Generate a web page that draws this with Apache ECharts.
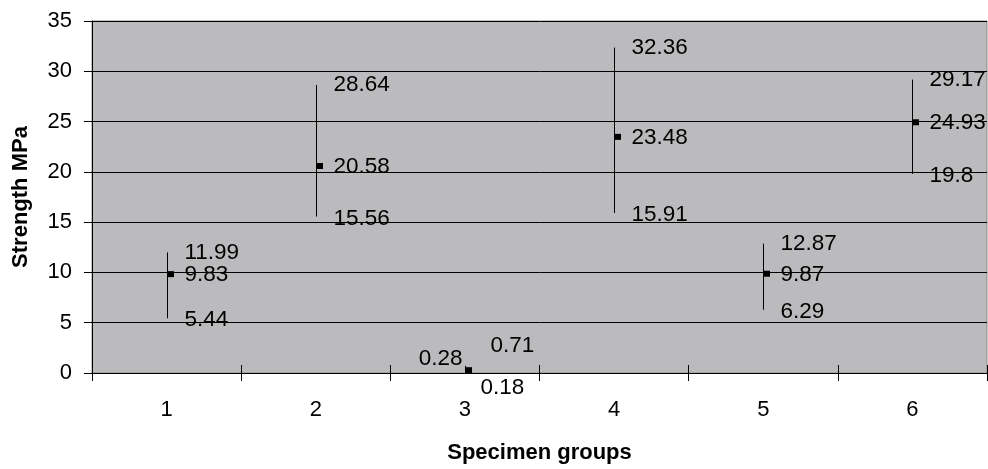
<!DOCTYPE html>
<html>
<head>
<meta charset="utf-8">
<script src="https://cdn.jsdelivr.net/npm/echarts@6/dist/echarts.min.js"></script>
<style>html,body{margin:0;padding:0;background:#fff}#c{width:988px;height:469px}</style>
</head>
<body>
<div id="c"></div>
<script>
var categories = ['1', '2', '3', '4', '5', '6'];
var highValues = [11.99, 28.64, 0.71, 32.36, 12.87, 29.17];
var lowValues  = [5.44, 15.56, 0.18, 15.91, 6.29, 19.8];
var meanValues = [9.83, 20.58, 0.28, 23.48, 9.87, 24.93];
var yTicks = [0, 5, 10, 15, 20, 25, 30, 35];

var FONT = '"Liberation Sans", Arial, sans-serif';
var LABEL_SIZE = 22.5;

// label offsets (dx from line, dy from value) per group; default right of line
function labelOffsets(i) {
  if (i === 2) {
    return {
      high: {dx: 25, dy: -20, align: 'left'},
      low:  {dx: 15, dy: 17, align: 'left'},
      mean: {dx: -3, dy: -11, align: 'right'}
    };
  }
  return {
    high: {dx: 17, dy: 0, align: 'left'},
    low:  {dx: 17, dy: 2, align: 'left'},
    mean: {dx: 17, dy: 1, align: 'left'}
  };
}

var seriesData = categories.map(function (c, i) {
  return [i, highValues[i], lowValues[i], meanValues[i]];
});

function fmt(v) { return String(v); }

var chart = echarts.init(document.getElementById('c'), null, {renderer: 'canvas'});
var axisCommon = {
  type: 'category',
  data: categories,
  position: 'bottom',
  boundaryGap: true
};
chart.setOption({
  animation: false,
  grid: {
    left: 92, top: 21, right: 1, bottom: 92,
    show: true, backgroundColor: '#bbbbbe', borderColor: '#8a8a8a', borderWidth: 1
  },
  xAxis: [
    Object.assign({}, axisCommon, {
      axisLine: {lineStyle: {color: '#000', width: 1}},
      axisTick: {show: true, inside: false, length: 8, lineStyle: {color: '#000'}},
      axisLabel: {color: '#000', fontSize: 22, fontFamily: FONT, margin: 26},
      name: 'Specimen groups',
      nameLocation: 'middle',
      nameGap: 69,
      nameTextStyle: {color: '#000', fontSize: 22, fontWeight: 'bold', fontFamily: FONT},
      splitLine: {show: false}
    }),
    Object.assign({}, axisCommon, {
      axisLine: {show: false},
      axisTick: {show: true, inside: true, length: 8, lineStyle: {color: '#000'}},
      axisLabel: {show: false},
      splitLine: {show: false}
    })
  ],
  yAxis: [
    {
      type: 'value', min: 0, max: 35, interval: 5,
      axisLine: {show: true, lineStyle: {color: '#000', width: 1}},
      axisTick: {show: true, inside: false, length: 8, lineStyle: {color: '#000'}},
      axisLabel: {color: '#000', fontSize: 22, fontFamily: FONT, margin: 20,
        formatter: function (v) { return yTicks.indexOf(v) >= 0 ? String(v) : ''; }},
      splitLine: {show: true, lineStyle: {color: '#000', width: 1}},
      name: 'Strength MPa',
      nameLocation: 'middle',
      nameGap: 60,
      nameRotate: 90,
      nameTextStyle: {color: '#000', fontSize: 22, fontWeight: 'bold', fontFamily: FONT}
    },
    {
      type: 'value', min: 0, max: 35, interval: 5, position: 'left',
      axisLine: {show: false},
      axisTick: {show: true, inside: true, length: 8, lineStyle: {color: '#000'}},
      axisLabel: {show: false},
      splitLine: {show: false}
    }
  ],
  series: [{
    type: 'custom',
    xAxisIndex: 0,
    yAxisIndex: 0,
    data: seriesData,
    clip: false,
    renderItem: function (params, api) {
      var idx = api.value(0);
      var hi = api.coord([idx, api.value(1)]);
      var lo = api.coord([idx, api.value(2)]);
      var me = api.coord([idx, api.value(3)]);
      var x = Math.round(hi[0]) + 0.5;
      var off = labelOffsets(params.dataIndex);
      function txt(p, val, o) {
        return {
          type: 'text',
          style: {
            x: x + o.dx, y: p[1] + o.dy,
            text: fmt(val),
            fill: '#000',
            font: LABEL_SIZE + 'px ' + FONT,
            textAlign: o.align,
            textVerticalAlign: 'middle'
          }
        };
      }
      return {
        type: 'group',
        children: [
          {type: 'line', shape: {x1: x, y1: hi[1], x2: x, y2: lo[1]},
           style: {stroke: '#000', lineWidth: 1}},
          {type: 'rect', shape: {x: x - 0.5, y: me[1] - 3, width: 7, height: 6},
           style: {fill: '#000'}},
          txt(hi, api.value(1), off.high),
          txt(lo, api.value(2), off.low),
          txt(me, api.value(3), off.mean)
        ]
      };
    }
  }]
});
</script>
</body>
</html>
